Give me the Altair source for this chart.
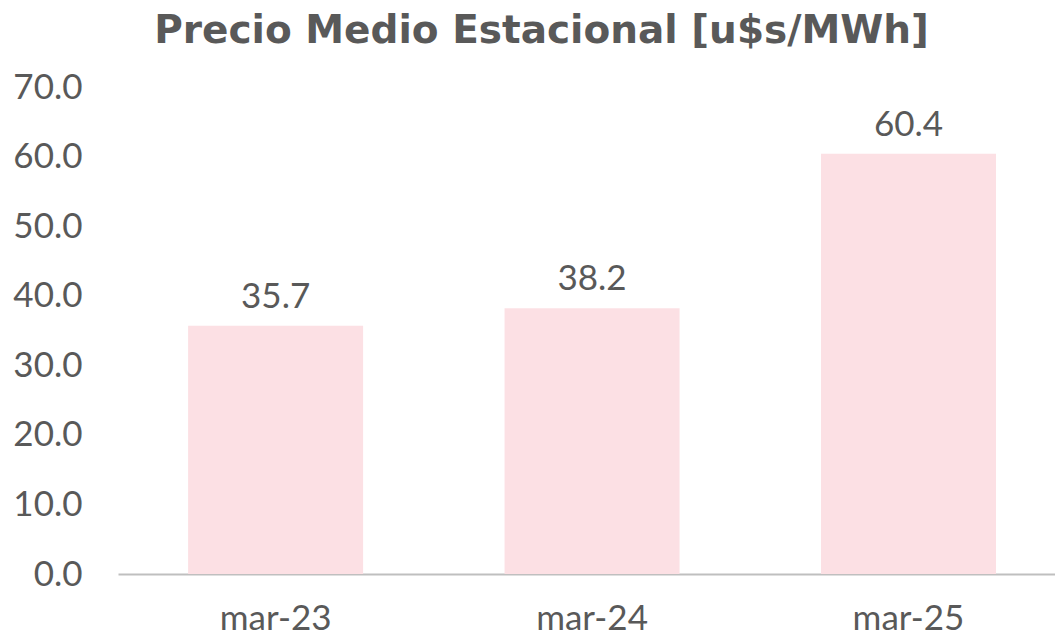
import altair as alt
import pandas as pd

categories = ["mar-23", "mar-24", "mar-25"]
values = [35.7, 38.2, 60.4]
labels = ["35.7", "38.2", "60.4"]

df = pd.DataFrame({"periodo": categories, "precio": values, "label": labels})

FONT = "Lato"
GRAY = "#595959"
FS = 35

base = alt.Chart(df).encode(
    x=alt.X("periodo:N", sort=categories,
            scale=alt.Scale(paddingInner=0.447, paddingOuter=0.204, align=0.543),
            axis=alt.Axis(title=None, labelAngle=0, labelFontSize=FS, labelColor=GRAY,
                          labelFont=FONT, labelPadding=27, ticks=False,
                          domainColor="#BFBFBF", domainWidth=2)),
    y=alt.Y("precio:Q",
            scale=alt.Scale(domain=[0, 70], nice=False),
            axis=alt.Axis(title=None, values=[0, 10, 20, 30, 40, 50, 60, 70], format=".1f",
                          labelFontSize=FS, labelColor=GRAY, labelFont=FONT,
                          labelPadding=36, ticks=False, domain=False, grid=False)),
)

bars = base.mark_bar(color="#FCE0E4")
text = base.mark_text(dy=-29, fontSize=FS, color=GRAY, font=FONT).encode(text="label:N")

chart = (bars + text).properties(
    width=937, height=487,
    autosize=alt.AutoSizeParams(type="none"),
    padding={"left": 110, "top": 79, "right": 0, "bottom": 64},
    title=alt.TitleParams("Precio Medio Estacional [u$s/MWh]", fontSize=39, font="DejaVu Sans",
                          fontWeight="bold", color=GRAY, anchor="middle", dx=-45, offset=19),
).configure_view(stroke=None)

chart.save("out.html", embed_options={"renderer": "svg", "actions": False})
